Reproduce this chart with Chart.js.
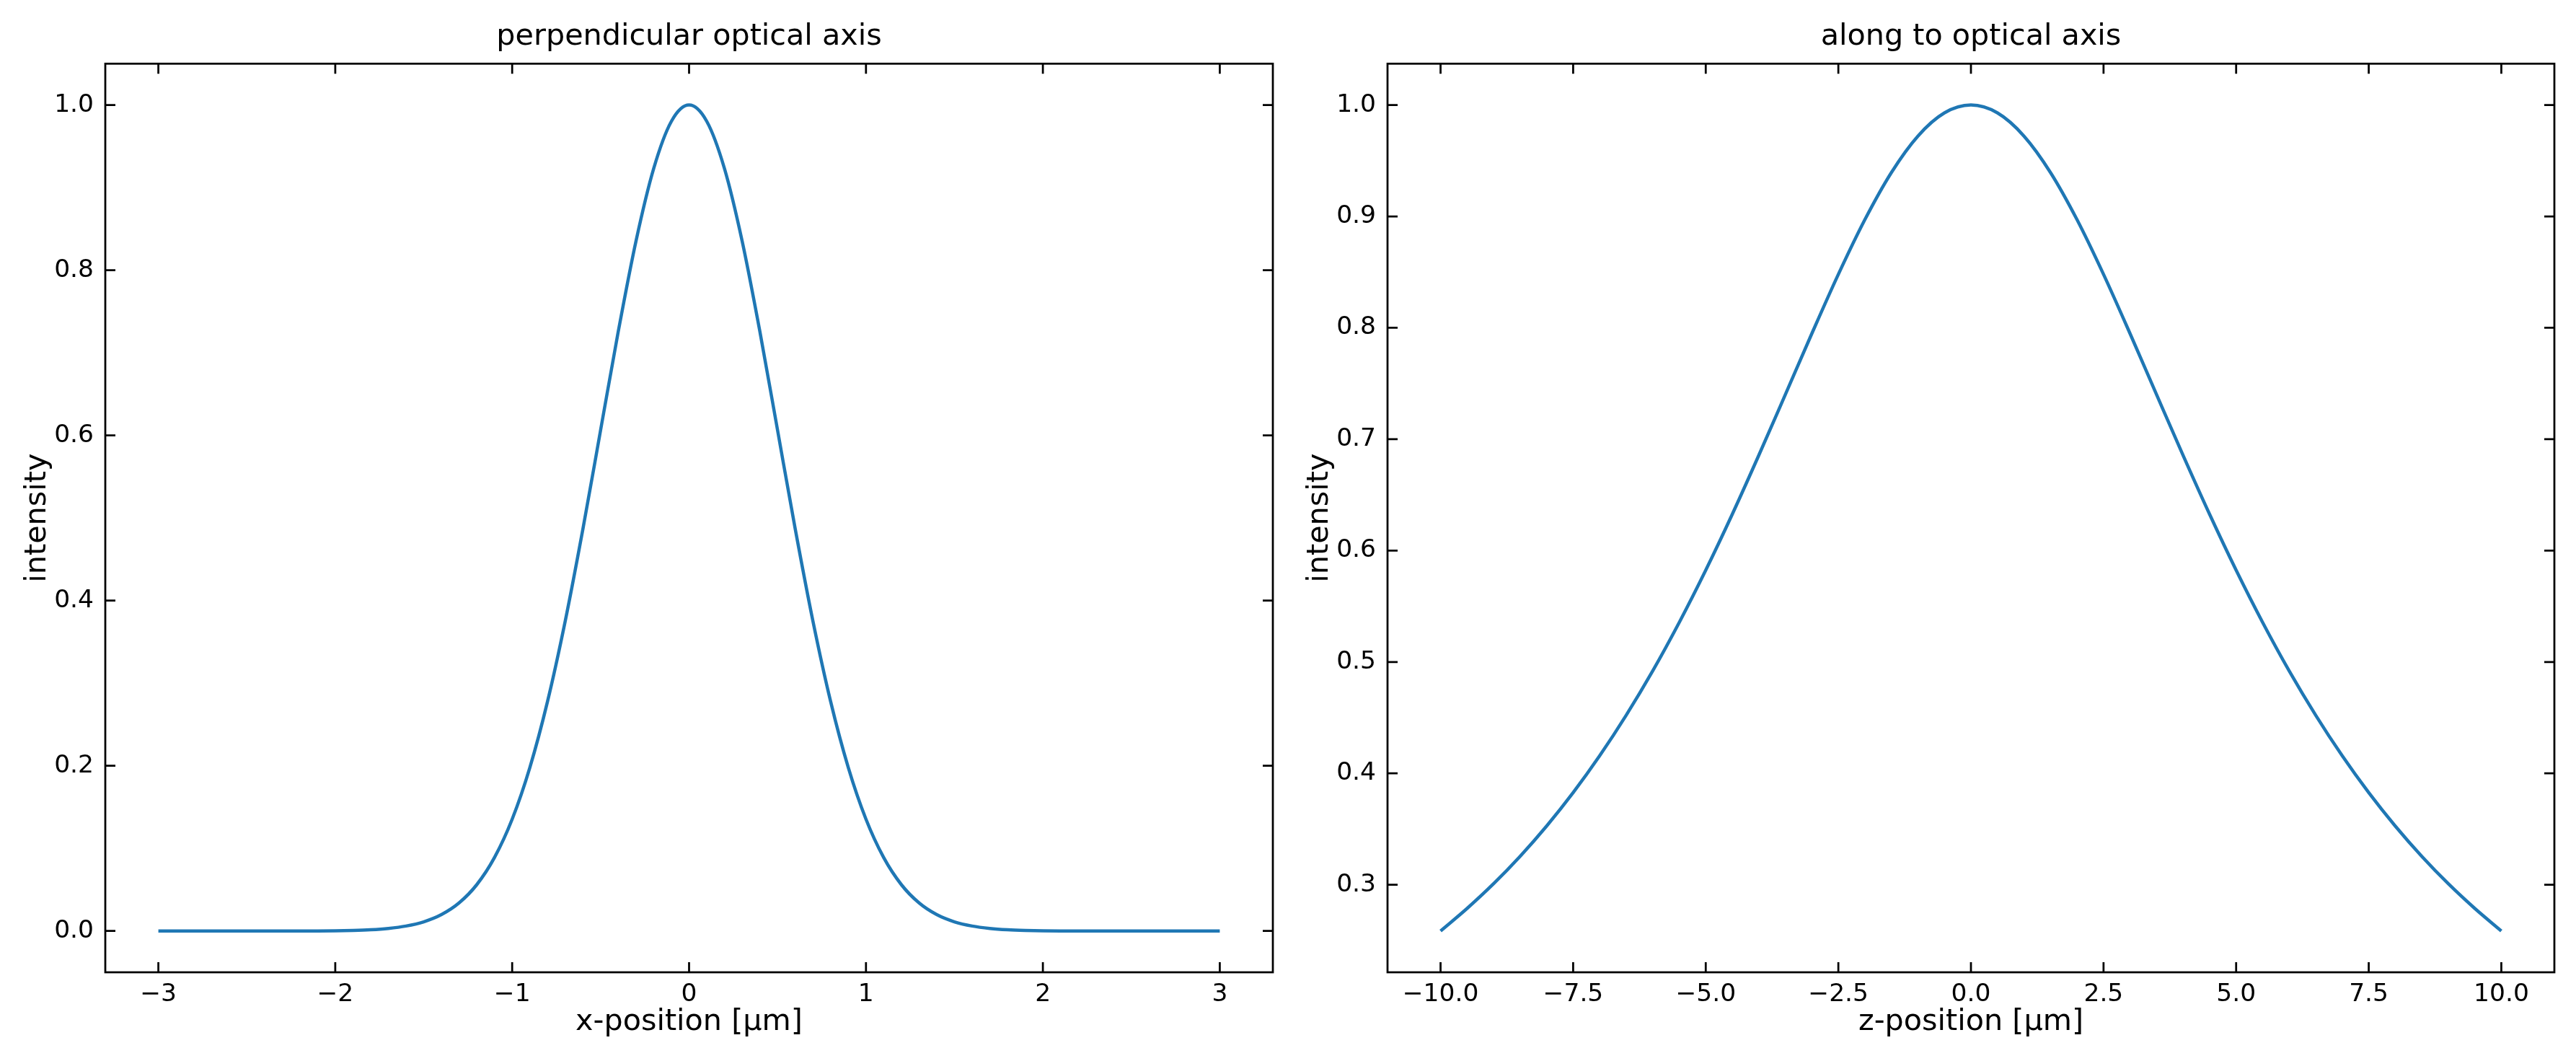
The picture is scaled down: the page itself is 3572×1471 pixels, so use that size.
<!DOCTYPE html>
<html>
<head>
<meta charset="utf-8">
<script src="https://cdn.jsdelivr.net/npm/chart.js@4.4.0/dist/chart.umd.min.js"></script>
<style>
  body { margin: 0; background: #fff; }
  canvas { position: absolute; top: 0; }
  #perpChart { left: 0; }
  #alongChart { left: 1778px; }
</style>
</head>
<body>
<canvas id="perpChart" width="1778" height="1471"></canvas>
<canvas id="alongChart" width="1794" height="1471"></canvas>

<script>
  // perpendicular optical axis
  var perpX = [-3.0, -2.9, -2.8, -2.7, -2.6, -2.5, -2.4, -2.3, -2.2, -2.1,
               -2.0, -1.9, -1.8, -1.7, -1.6, -1.5, -1.4, -1.3, -1.2, -1.1,
               -1.0, -0.9, -0.8, -0.7, -0.6, -0.5, -0.4, -0.3, -0.2, -0.1,
               0.0, 0.1, 0.2, 0.3, 0.4, 0.5, 0.6, 0.7, 0.8, 0.9,
               1.0, 1.1, 1.2, 1.3, 1.4, 1.5, 1.6, 1.7, 1.8, 1.9,
               2.0, 2.1, 2.2, 2.3, 2.4, 2.5, 2.6, 2.7, 2.8, 2.9, 3.0];
  var perpY = [0, 0, 0, 0, 0, 0, 0, 0, 0, 0.0001,
               0.0003, 0.0007, 0.0015, 0.0031, 0.0060, 0.0111, 0.0198, 0.0340, 0.0561, 0.0889,
               0.1353, 0.1979, 0.2780, 0.3753, 0.4868, 0.6065, 0.7261, 0.8353, 0.9231, 0.9802,
               1.0, 0.9802, 0.9231, 0.8353, 0.7261, 0.6065, 0.4868, 0.3753, 0.2780, 0.1979,
               0.1353, 0.0889, 0.0561, 0.0340, 0.0198, 0.0111, 0.0060, 0.0031, 0.0015, 0.0007,
               0.0003, 0.0001, 0, 0, 0, 0, 0, 0, 0, 0, 0];
  var perpXTicks = [-3, -2, -1, 0, 1, 2, 3];
  var perpXLabels = ['\u22123', '\u22122', '\u22121', '0', '1', '2', '3'];
  var perpYTicks = [0, 0.2, 0.4, 0.6, 0.8, 1.0];
  var perpYLabels = ['0.0', '0.2', '0.4', '0.6', '0.8', '1.0'];

  // along to optical axis
  var alongZ = [-10, -9.5, -9, -8.5, -8, -7.5, -7, -6.5, -6, -5.5,
                -5, -4.5, -4, -3.5, -3, -2.5, -2, -1.5, -1, -0.5,
                0, 0.5, 1, 1.5, 2, 2.5, 3, 3.5, 4, 4.5,
                5, 5.5, 6, 6.5, 7, 7.5, 8, 8.5, 9, 9.5, 10];
  var alongY = [0.2585, 0.2787, 0.3009, 0.3255, 0.3527, 0.3827, 0.4158, 0.4522, 0.4920, 0.5355,
                0.5824, 0.6326, 0.6855, 0.7400, 0.7948, 0.8480, 0.8971, 0.9394, 0.9721, 0.9929,
                1.0, 0.9929, 0.9721, 0.9394, 0.8971, 0.8480, 0.7948, 0.7400, 0.6855, 0.6326,
                0.5824, 0.5355, 0.4920, 0.4522, 0.4158, 0.3827, 0.3527, 0.3255, 0.3009, 0.2787, 0.2585];
  var alongXTicks = [-10, -7.5, -5, -2.5, 0, 2.5, 5, 7.5, 10];
  var alongXLabels = ['\u221210.0', '\u22127.5', '\u22125.0', '\u22122.5', '0.0', '2.5', '5.0', '7.5', '10.0'];
  var alongYTicks = [0.3, 0.4, 0.5, 0.6, 0.7, 0.8, 0.9, 1.0];
  var alongYLabels = ['0.3', '0.4', '0.5', '0.6', '0.7', '0.8', '0.9', '1.0'];

  var FONT = 'DejaVu Sans';

  // matplotlib style frame: spines on all sides, ticks pointing inwards
  var frameTicks = {
    id: 'frameTicks',
    afterDatasetsDraw: function(chart) {
      var c = chart.ctx, a = chart.chartArea;
      var xs = chart.scales.x, ys = chart.scales.y;
      c.save();
      c.strokeStyle = '#000';
      c.lineWidth = 2.75;
      c.beginPath();
      xs.ticks.forEach(function(t) {
        var px = xs.getPixelForValue(t.value);
        c.moveTo(px, a.top); c.lineTo(px, a.top + 14);
        c.moveTo(px, a.bottom); c.lineTo(px, a.bottom - 14);
      });
      ys.ticks.forEach(function(t) {
        var py = ys.getPixelForValue(t.value);
        c.moveTo(a.left, py); c.lineTo(a.left + 14, py);
        c.moveTo(a.right, py); c.lineTo(a.right - 14, py);
      });
      c.stroke();
      c.strokeRect(a.left, a.top, a.right - a.left, a.bottom - a.top);
      c.restore();
    }
  };

  function makeChart(id, title, xLabel, xs, ys, xMin, xMax, yMin, yMax, xTicks, xLabels, yTicks, yLabels, padRight) {
    var pts = xs.map(function(x, i) { return {x: x, y: ys[i]}; });
    return new Chart(document.getElementById(id).getContext('2d'), {
      type: 'line',
      data: {
        datasets: [{
          data: pts,
          borderColor: '#1f77b4',
          borderWidth: 4.5,
          pointRadius: 0,
          fill: false,
          cubicInterpolationMode: 'monotone'
        }]
      },
      options: {
        responsive: false,
        animation: false,
        devicePixelRatio: 1,
        layout: { padding: { left: 0, right: padRight, top: 0, bottom: 0 } },
        plugins: {
          legend: { display: false },
          tooltip: { enabled: false },
          title: {
            display: true,
            text: title,
            fullSize: false,
            color: '#000',
            font: { family: FONT, size: 41.3, weight: 'normal', lineHeight: 1 },
            padding: { top: 31, bottom: 16 }
          }
        },
        scales: {
          x: {
            type: 'linear',
            min: xMin, max: xMax,
            afterBuildTicks: function(s) { s.ticks = xTicks.map(function(v) { return {value: v}; }); },
            afterFit: function(s) { s.height = 123; },
            grid: { display: false, drawTicks: false },
            border: { display: false },
            ticks: {
              color: '#000',
              padding: 10,
              maxRotation: 0,
              autoSkip: false,
              font: { family: FONT, size: 34.5, lineHeight: 1.2 },
              callback: function(v, i) { return xLabels[i]; }
            },
            title: {
              display: true,
              text: xLabel,
              color: '#000',
              font: { family: FONT, size: 41.3, lineHeight: 1 },
              padding: { top: 0, bottom: 32.6 }
            }
          },
          y: {
            type: 'linear',
            min: yMin, max: yMax,
            afterBuildTicks: function(s) { s.ticks = yTicks.map(function(v) { return {value: v}; }); },
            afterFit: function(s) { s.width = 146; },
            grid: { display: false, drawTicks: false },
            border: { display: false },
            ticks: {
              color: '#000',
              padding: 16,
              autoSkip: false,
              font: { family: FONT, size: 34.5, lineHeight: 1.2 },
              callback: function(v, i) { return yLabels[i]; }
            },
            title: {
              display: true,
              text: 'intensity',
              color: '#000',
              font: { family: FONT, size: 41.3, lineHeight: 1 },
              padding: { top: 32, bottom: 0 }
            }
          }
        }
      },
      plugins: [frameTicks]
    });
  }

  var perpChart = makeChart('perpChart', 'perpendicular optical axis', 'x-position [\u00b5m]',
    perpX, perpY, -3.3, 3.3, -0.05, 1.05, perpXTicks, perpXLabels, perpYTicks, perpYLabels, 13);

  var alongChart = makeChart('alongChart', 'along to optical axis', 'z-position [\u00b5m]',
    alongZ, alongY, -11, 11, 0.2214, 1.0371, alongXTicks, alongXLabels, alongYTicks, alongYLabels, 30);
</script>
</body>
</html>
